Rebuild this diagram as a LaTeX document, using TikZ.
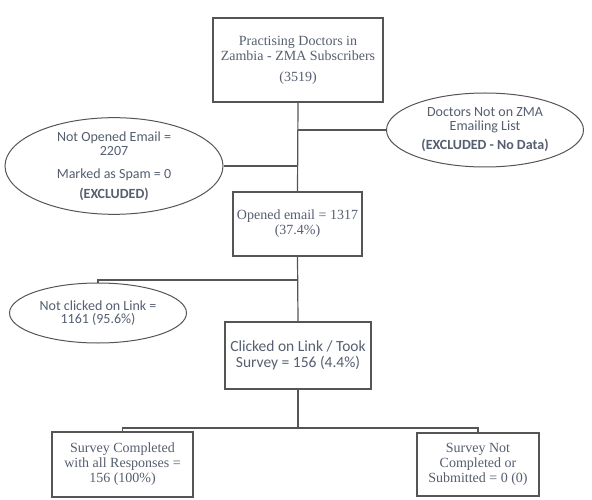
\documentclass[tikz,border=0pt]{standalone}
\usepackage{fontspec}
\setmainfont{Liberation Serif}
\newfontfamily\calfont{Carlito}
\usetikzlibrary{shapes.geometric}
\definecolor{txt}{RGB}{85,95,112}
\definecolor{ln}{RGB}{85,85,85}
\begin{document}
\begin{tikzpicture}[x=1bp,y=-1bp,
 box/.style={draw=ln, line width=1.2bp, fill=white, text=txt, align=center, inner sep=0pt, font=\fontsize{14bp}{15bp}\selectfont},
 oval/.style={ellipse, draw=ln, line width=1bp, fill=white, text=txt, align=center, inner sep=0pt, font=\calfont\fontsize{14bp}{13.5bp}\selectfont},
 sbox/.style={box, font=\calfont\fontsize{15.5bp}{16.5bp}\selectfont},
 conn/.style={draw=ln, line width=1.2bp}]
\useasboundingbox (0,0) rectangle (592,500);
\node[box, minimum width=170bp, minimum height=84bp] (top) at (298,60) {Practising Doctors in\\Zambia - ZMA Subscribers\\[6bp](3519)};
\node[oval, minimum width=218bp, minimum height=87bp] (noe) at (114,166) {Not Opened Email =\\2207\\[10bp]Marked as Spam = 0\\[6bp]\textbf{(EXCLUDED)}};
\node[oval, minimum width=197bp, minimum height=74bp] (nzma) at (485,130) {Doctors Not on ZMA\\Emailing List\\[6bp]\textbf{(EXCLUDED - No Data)}};
\node[box, minimum width=129bp, minimum height=64bp] (open) at (297.5,224) {Opened email = 1317\\(37.4\%)};
\node[oval, minimum width=177bp, minimum height=60bp] (nc) at (98,313) {Not clicked on Link =\\1161 (95.6\%)};
\node[sbox, minimum width=146bp, minimum height=67bp] (click) at (298,355.5) {Clicked on Link / Took\\Survey = 156 (4.4\%)};
\node[box, minimum width=141bp, minimum height=65bp] (comp) at (122.5,464.5) {Survey Completed\\with all Responses =\\156 (100\%)};
\node[box, minimum width=122bp, minimum height=63bp] (ncomp) at (478,464.5) {Survey Not\\Completed or\\Submitted = 0 (0)};
\coordinate (b1) at (298,280);
\coordinate (b2) at (298,428);
\draw[conn] (top.south) -- (open.north);
\draw[conn] (noe.east) -- (noe.east -| top.south);
\draw[conn] (nzma.west) -- (nzma.west -| top.south);
\draw[conn] (open.south) -- (click.north);
\draw[conn] (b1) -| (nc.north);
\draw[conn] (click.south) -- (b2);
\draw[conn] (comp.north) |- (b2) -| (ncomp.north);
\end{tikzpicture}
\end{document}
